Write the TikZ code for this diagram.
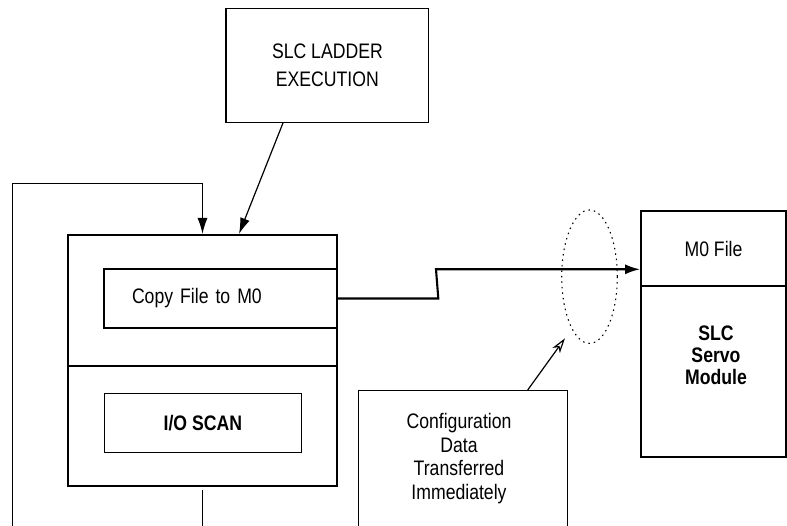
\documentclass[tikz,border=0pt]{standalone}
\usepackage{fontspec}
\setmainfont{Liberation Sans}[FakeStretch=0.84]
\usetikzlibrary{arrows.meta,shapes.geometric}

\begin{document}
\begin{tikzpicture}[
  x=1pt, y=1pt,
  bloque/.style={draw=black, line width=1.3pt, inner sep=0pt, align=center, font=\fontsize{21}{23}\selectfont},
  negrita/.style={bloque, font=\bfseries\fontsize{21}{22}\selectfont},
  marco/.style={draw=black, line width=2.1pt, inner sep=0pt},
  linea/.style={draw=black, line width=1.2pt},
  flecha/.style={linea, -{Latex[length=16pt,width=10pt]}},
  grueso/.style={draw=black, line width=2.1pt, -{Latex[length=15pt,width=10pt]}},
  hueca/.style={linea, -{Stealth[open,length=15pt,width=9pt,inset=4pt]}},
  halo/.style={draw=black, ellipse, line width=1.1pt, dash pattern=on 1.5pt off 4pt, inner sep=0pt}
]
\useasboundingbox (0,0) rectangle (787,525);

\node[bloque, minimum width=202.7pt, minimum height=114pt, font=\fontsize{21}{28}\selectfont] (ladder) at (327.4,459.7) {SLC LADDER\\EXECUTION};

\node[marco, minimum width=268.4pt, minimum height=251pt] (scan) at (202.5,164.5) {};
\node[bloque, minimum width=233pt, minimum height=59pt, text width=177pt, inner xsep=28pt, align=left] (copy) at (220.5,226.5) {Copy File to M0};
\node[negrita, minimum width=197pt, minimum height=59pt] (ioscan) at (202.8,101.8) {I/O SCAN};
\draw[linea] ([yshift=-5.5pt]scan.west) -- ([yshift=-5.5pt]scan.east);

\node[bloque, line width=1.8pt, minimum width=145pt, minimum height=75pt] (mfile) at (713.5,276.5) {M0 File};
\node[bloque, minimum width=145pt, minimum height=171pt] (servo) at (713.5,153.5) {};
\node[negrita, draw=none] (servotxt) at (716,170) {SLC\\Servo\\Module};

\node[bloque, minimum width=209pt, minimum height=150pt, anchor=north] (config) at (462.8,135) {};
\node[align=center, font=\fontsize{21}{23.5}\selectfont] (configtxt) at (459,66.5) {Configuration\\Data\\Transferred\\Immediately};

\node[halo, minimum width=55.6pt, minimum height=133.4pt] (ring) at (589.5,248.3) {};

\coordinate (jogA) at (438.3,226.5);
\coordinate (jogB) at (436,255.7);
\coordinate (loop) at (12.3,-10);
\coordinate (feed) at (202.5,-10);
\coordinate (hint) at (565,186.7);

\draw[flecha] ([xshift=-44.4pt]ladder.south) -- ([xshift=36.5pt]scan.north);
\draw[flecha] (loop) |- ([yshift=50.3pt]scan.north) -- (scan.north);
\draw[linea] ([yshift=-3pt]scan.south) -- (feed);
\draw[grueso] (copy.east) -- (jogA) -- (jogB) -- (jogB -| mfile.west);
\draw[hueca] ([xshift=64.9pt]config.north) -- (hint);
\end{tikzpicture}
\end{document}
